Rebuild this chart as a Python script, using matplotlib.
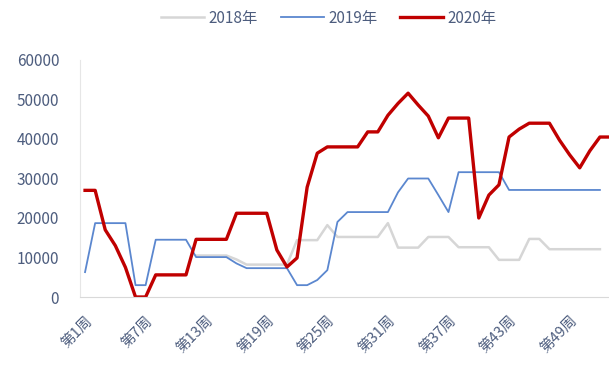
import numpy as np
import matplotlib
matplotlib.use("Agg")
import matplotlib.pyplot as plt

plt.rcParams['font.family'] = ['Noto Sans CJK SC', 'DejaVu Sans']

# weekly values, week 1 onwards (2018 has no visible data before week 12)
weeks_2020 = list(range(1, 54))
weeks_2019 = list(range(1, 53))
weeks_2018 = list(range(12, 53))

y2018 = [10500, 10500, 10500, 10500, 9500, 8200, 8200, 8200, 8200, 8200,
         14400, 14400, 14400, 18200, 15200, 15200, 15200, 15200, 15200, 18700,
         12500, 12500, 12500, 15200, 15200, 15200, 12600, 12600, 12600, 12600,
         9400, 9400, 9400, 14700, 14700, 12100, 12100, 12100, 12100, 12100,
         12100]

y2019 = [6300, 18700, 18700, 18700, 18700, 3000, 3000, 14500, 14500, 14500,
         14500, 10100, 10100, 10100, 10100, 8500, 7300, 7300, 7300, 7300,
         7300, 3000, 3000, 4300, 6800, 19000, 21500, 21500, 21500, 21500,
         21500, 26500, 30000, 30000, 30000, 25800, 21500, 31600, 31600, 31600,
         31600, 31600, 27100, 27100, 27100, 27100, 27100, 27100, 27100, 27100,
         27100, 27100]

y2020 = [27000, 27000, 17000, 13000, 7500, 0, 0, 5600, 5600, 5600,
         5600, 14600, 14600, 14600, 14600, 21200, 21200, 21200, 21200, 11900,
         7600, 9900, 27800, 36400, 38000, 38000, 38000, 38000, 41800, 41800,
         46000, 49000, 51600, 48600, 45800, 40300, 45300, 45300, 45300, 20000,
         25800, 28400, 40500, 42500, 44000, 44000, 44000, 39700, 36000, 32700,
         37000, 40500, 40500]

tick_weeks = list(range(1, 50, 6))
tick_labels = ["第%d周" % w for w in tick_weeks]

text_color = '#4d5d7e'

fig = plt.figure(figsize=(6.09, 3.76), dpi=100)
ax = fig.add_axes([80 / 609, 1 - 297 / 376, 529 / 609, 237 / 376])

ax.plot(weeks_2018, y2018, color='#d6d6d6', lw=1.8, label='2018年')
ax.plot(weeks_2019, y2019, color='#5b87cf', lw=1.3, label='2019年')
ax.plot(weeks_2020, y2020, color='#c00000', lw=2.4, label='2020年')

ax.set_xlim(0.5, 52.9)
ax.set_ylim(0, 60000)
ax.set_yticks(range(0, 60001, 10000))
ax.set_xticks(tick_weeks)
ax.set_xticklabels(tick_labels, rotation=45, ha='right', va='top',
                   rotation_mode='anchor')

ax.tick_params(axis='both', length=0, colors=text_color)
ax.tick_params(axis='y', labelsize=11, pad=15)
ax.tick_params(axis='x', labelsize=10.5, pad=12)

for side in ['top', 'right']:
    ax.spines[side].set_visible(False)
ax.spines['left'].set_color('#e6e6e6')
ax.spines['bottom'].set_color('#d9d9d9')

leg = fig.legend(loc='center', bbox_to_anchor=(329 / 609, 1 - 18 / 376), ncol=3,
                 frameon=False, fontsize=11, handlelength=2.8, columnspacing=1.5,
                 handletextpad=0.3)
for t in leg.get_texts():
    t.set_color(text_color)

fig.savefig('out.png', dpi=100)
